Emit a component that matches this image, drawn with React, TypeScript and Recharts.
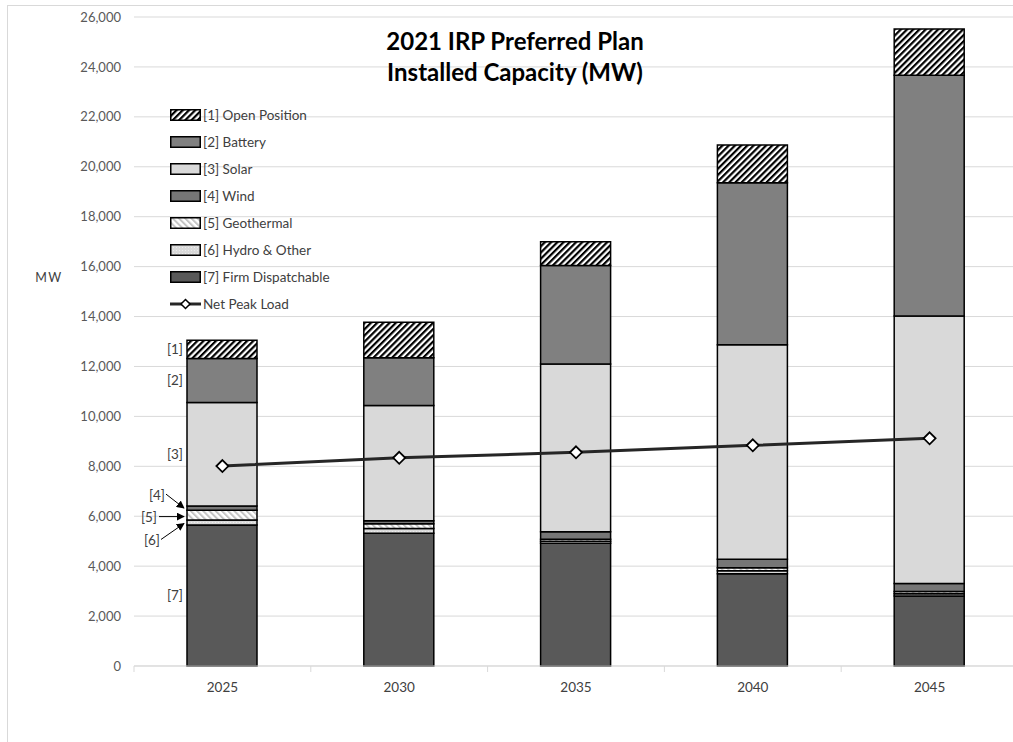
import React from 'react';
import {
  ComposedChart,
  Bar,
  Line,
  XAxis,
  YAxis,
  CartesianGrid,
  Legend,
  LabelList,
  Label,
} from 'recharts';

// ---------- data ----------
const YEARS = ['2025', '2030', '2035', '2040', '2045'];
const FIRM = [5650, 5320, 4920, 3700, 2800];
const HYDRO = [200, 190, 80, 120, 90];
const GEOTHERMAL = [390, 190, 80, 120, 90];
const WIND = [170, 120, 300, 340, 325];
const SOLAR = [4150, 4620, 6720, 8585, 10720];
const BATTERY = [1760, 1910, 3940, 6490, 9645];
const OPEN = [730, 1420, 960, 1515, 1850];
const NET_PEAK = [8010, 8340, 8560, 8840, 9120];
const Y_TICKS = [0, 2000, 4000, 6000, 8000, 10000, 12000, 14000, 16000, 18000, 20000, 22000, 24000, 26000];
const TITLE_LINES = ['2021 IRP Preferred Plan', 'Installed Capacity (MW)'];
const Y_LABEL = 'MW';

const NAMES: Record<string, string> = {
  open: '[1] Open Position',
  battery: '[2] Battery',
  solar: '[3] Solar',
  wind: '[4] Wind',
  geo: '[5] Geothermal',
  hydro: '[6] Hydro & Other',
  firm: '[7] Firm Dispatchable',
  net: 'Net Peak Load',
};
const TAGS: Record<string, string> = {
  open: '[1]', battery: '[2]', solar: '[3]', wind: '[4]', geo: '[5]', hydro: '[6]', firm: '[7]',
};
const LEGEND_ORDER = ['open', 'battery', 'solar', 'wind', 'geo', 'hydro', 'firm', 'net'];

const data = YEARS.map((year, i) => ({
  year,
  firm: FIRM[i],
  hydro: HYDRO[i],
  geo: GEOTHERMAL[i],
  wind: WIND[i],
  solar: SOLAR[i],
  battery: BATTERY[i],
  open: OPEN[i],
  net: NET_PEAK[i],
}));

// ---------- styles ----------
const FONT = "Lato, 'Open Sans', sans-serif";
const FILLS: Record<string, string> = {
  firm: '#595959',
  hydro: 'url(#pHydro)',
  geo: 'url(#pGeo)',
  wind: '#767676',
  solar: '#d9d9d9',
  battery: '#808080',
  open: 'url(#pOpen)',
};
const STACK_ORDER = ['firm', 'hydro', 'geo', 'wind', 'solar', 'battery', 'open'];

const X_TICK_SIZE = 6;
const X_TICK_MARGIN = 10;

const Defs = () => (
  <svg width={0} height={0} style={{ position: 'absolute' }}>
    <defs>
      <pattern id="pOpen" width={4.4} height={4.4} patternUnits="userSpaceOnUse" patternTransform="rotate(45)">
        <rect width={4.4} height={4.4} fill="#fff" />
        <rect width={2.2} height={4.4} fill="#000" />
      </pattern>
      <pattern id="pGeo" width={4.4} height={4.4} patternUnits="userSpaceOnUse" patternTransform="rotate(-45)">
        <rect width={4.4} height={4.4} fill="#fff" />
        <rect width={2} height={4.4} fill="#c4c4c4" />
      </pattern>
      <pattern id="pHydro" width={3} height={3} patternUnits="userSpaceOnUse">
        <rect width={3} height={3} fill="#d9d9d9" />
        <rect width={1} height={1} fill="#ececec" />
      </pattern>
      <marker id="arrowHead" viewBox="0 0 10 10" refX={9} refY={5} markerWidth={8} markerHeight={8} orient="auto">
        <path d="M0,0 L10,5 L0,10 z" fill="#000" />
      </marker>
    </defs>
  </svg>
);

const Diamond = (props: any) => {
  const { cx, cy, index } = props;
  if (cx == null || cy == null) return null;
  const r = 6;
  return (
    <path
      key={`d-${index}`}
      d={`M${cx},${cy - r} L${cx + r},${cy} L${cx},${cy + r} L${cx - r},${cy} Z`}
      fill="#fff"
      stroke="#000"
      strokeWidth={1.8}
    />
  );
};

const annoText = (x: number, y: number, t: string) => (
  <text x={x} y={y} textAnchor="end" dominantBaseline="central" fontSize={13.5} fill="#404040" fontFamily={FONT}>
    {t}
  </text>
);

const makeAnno = (key: string) => (p: any) => {
  if (p.index !== 0) return null;
  const vb = p.viewBox ?? p;
  const x = vb.x;
  const top = Math.min(vb.y, vb.y + vb.height);
  const h = Math.abs(vb.height);
  const cy = top + h / 2;
  const t = TAGS[key];
  if (key === 'wind') {
    return (
      <g>
        {annoText(x - 22, cy - 13, t)}
        <line x1={x - 21} y1={cy - 14} x2={x - 3} y2={cy} stroke="#000" strokeWidth={1} markerEnd="url(#arrowHead)" />
      </g>
    );
  }
  if (key === 'geo') {
    return (
      <g>
        {annoText(x - 30, cy + 2, t)}
        <line x1={x - 28} y1={cy + 1.5} x2={x - 3} y2={cy + 1.5} stroke="#000" strokeWidth={1} markerEnd="url(#arrowHead)" />
      </g>
    );
  }
  if (key === 'hydro') {
    return (
      <g>
        {annoText(x - 27, cy + 18, t)}
        <line x1={x - 26} y1={cy + 17} x2={x - 3} y2={cy + 1} stroke="#000" strokeWidth={1} markerEnd="url(#arrowHead)" />
      </g>
    );
  }
  return annoText(x - 4, cy, t);
};

const XTick = (p: any) => {
  const { x, y, payload, width } = p;
  const off = payload && typeof payload.offset === 'number' ? payload.offset : width / YEARS.length / 2;
  const axisY = y - X_TICK_SIZE - X_TICK_MARGIN;
  return (
    <g>
      <line x1={x - off} x2={x - off} y1={axisY} y2={axisY + 6} stroke="#d9d9d9" strokeWidth={1} />
      <text x={x} y={y} dy="0.71em" textAnchor="middle" fontSize={13.5} fill="#404040" fontFamily={FONT}>
        {payload.value}
      </text>
    </g>
  );
};

const LegendContent = () => (
  <div style={{ fontFamily: FONT, fontSize: 13.5, color: '#404040' }}>
    {LEGEND_ORDER.map((k) => (
      <div key={k} style={{ display: 'flex', alignItems: 'center', height: 26.9, whiteSpace: 'nowrap' }}>
        <svg width={32} height={12} style={{ display: 'block', marginRight: 1 }}>
          {k === 'net' ? (
            <g>
              <line x1={0} y1={6} x2={31} y2={6} stroke="#262626" strokeWidth={3} />
              <path d="M15.5,1.5 L20,6 L15.5,10.5 L11,6 Z" fill="#fff" stroke="#000" strokeWidth={1.5} />
            </g>
          ) : (
            <rect x={0.75} y={0.75} width={29.5} height={10.5} fill={FILLS[k]} stroke="#000" strokeWidth={1.5} />
          )}
        </svg>
        <span>{NAMES[k]}</span>
      </div>
    ))}
  </div>
);

export default function App() {
  return (
    <div style={{ position: 'absolute', left: 0, top: 0, width: 1013, height: 742, overflow: 'hidden', background: '#fff' }}>
      <Defs />
      <div
        style={{
          position: 'absolute',
          left: 7,
          top: 5,
          width: 1060,
          height: 780,
          border: '1px solid #d9d9d9',
          boxSizing: 'border-box',
        }}
      >
        <ComposedChart
          width={1030}
          height={736}
          data={data}
          margin={{ top: 11, right: 20, left: 0, bottom: 46 }}
          barSize={70}
        >
          <CartesianGrid vertical={false} stroke="#d9d9d9" strokeWidth={1} />
          <XAxis
            dataKey="year"
            height={30}
            axisLine={{ stroke: '#d9d9d9' }}
            tickLine={false}
            tickSize={X_TICK_SIZE}
            tickMargin={X_TICK_MARGIN}
            tick={<XTick />}
            interval={0}
          />
          <YAxis
            width={126}
            domain={[0, 26000]}
            ticks={Y_TICKS}
            interval={0}
            axisLine={false}
            tickLine={false}
            tickSize={6}
            tickMargin={7}
            tick={{ fontSize: 13, fill: '#595959', fontFamily: FONT }}
            tickFormatter={(v: number) => v.toLocaleString('en-US')}
          >
            <Label
              content={(lp: any) => {
                const vb = lp.viewBox || {};
                return (
                  <text
                    x={(vb.x ?? 0) + 41}
                    y={(vb.y ?? 0) + 260}
                    textAnchor="middle"
                    dominantBaseline="central"
                    fontSize={12.5}
                    letterSpacing={1.5}
                    fill="#404040"
                    fontFamily={FONT}
                  >
                    {Y_LABEL}
                  </text>
                );
              }}
            />
          </YAxis>
          <Legend
            layout="vertical"
            align="center"
            verticalAlign="middle"
            content={<LegendContent />}
            wrapperStyle={{ left: 162, top: 96, width: 200, height: 220 }}
          />
          {STACK_ORDER.map((k) => (
            <Bar
              key={k}
              dataKey={k}
              name={NAMES[k]}
              stackId="cap"
              fill={FILLS[k]}
              stroke="#000"
              strokeWidth={1.5}
              isAnimationActive={false}
            >
              <LabelList dataKey={k} content={makeAnno(k)} />
            </Bar>
          ))}
          <Line
            dataKey="net"
            name={NAMES.net}
            stroke="#262626"
            strokeWidth={3}
            dot={<Diamond />}
            activeDot={false}
            isAnimationActive={false}
          />
        </ComposedChart>
        <div
          style={{
            position: 'absolute',
            left: 0,
            top: 19,
            width: 1014,
            textAlign: 'center',
            fontFamily: FONT,
            fontWeight: 700,
            fontSize: 24,
            lineHeight: '31px',
            color: '#000',
            pointerEvents: 'none',
          }}
        >
          {TITLE_LINES.map((t) => (
            <div key={t}>{t}</div>
          ))}
        </div>
      </div>
    </div>
  );
}
